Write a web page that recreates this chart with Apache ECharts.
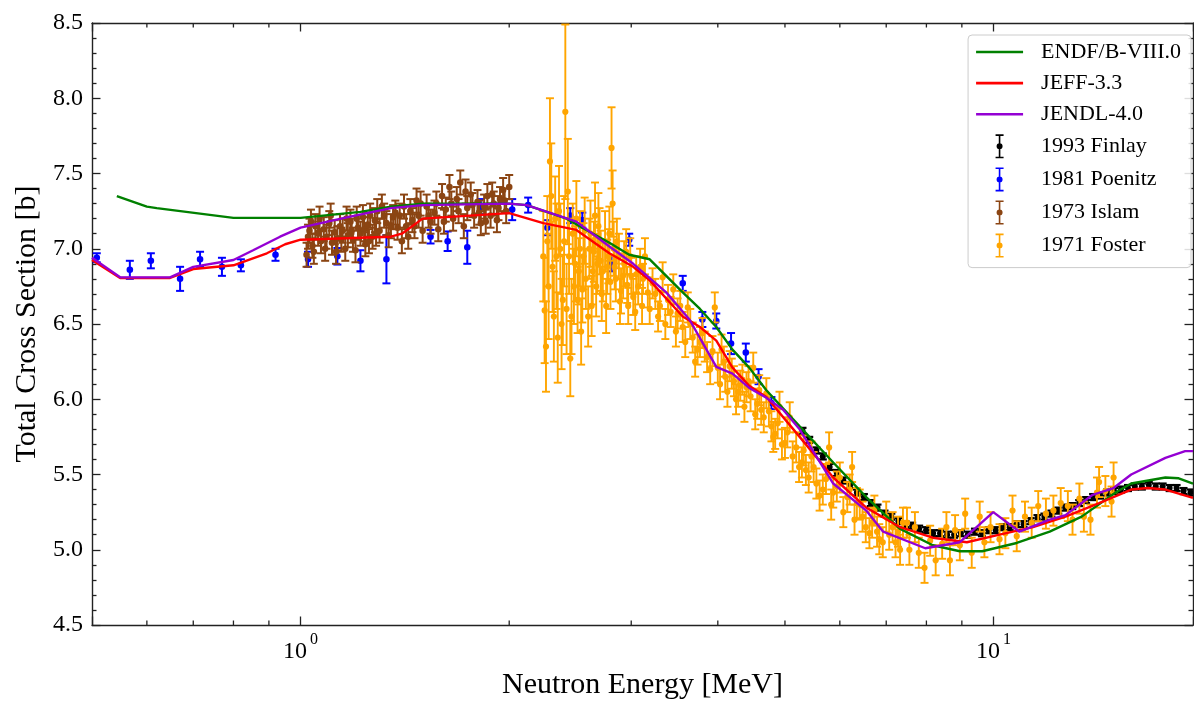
<!DOCTYPE html>
<html><head><meta charset="utf-8">
<script src="https://cdn.jsdelivr.net/npm/echarts@6/dist/echarts.min.js"></script>
<style>html,body{margin:0;padding:0;background:#fff}#chart{width:1194px;height:701px}</style>
</head><body><div id="chart"></div>
<script>
// ---- evaluated library curves: [energy MeV, cross section b]
const endfData = [[0.543,7.35],[0.60,7.28],[0.62,7.27],[0.80,7.205],[1.0,7.205],[1.22,7.245],[1.35,7.28],[1.5,7.30],[2.0,7.30],[2.12,7.29],[2.42,7.20],[2.55,7.14],[2.79,7.04],[2.98,6.96],[3.19,6.93],[3.56,6.71],[3.77,6.60],[3.98,6.48],[4.2,6.33],[4.44,6.21],[4.7,6.06],[5.25,5.82],[5.87,5.58],[6.55,5.35],[7.32,5.14],[8.17,5.03],[8.94,4.99],[9.63,4.99],[10.8,5.045],[12.05,5.12],[13.4,5.22],[15.0,5.38],[15.8,5.44],[17.7,5.48],[18.5,5.475],[19.4,5.44]];
const jeffData = [[0.5,6.925],[0.549,6.806],[0.648,6.806],[0.70,6.865],[0.80,6.89],[0.894,6.97],[0.95,7.03],[1.0,7.06],[1.35,7.08],[1.40,7.10],[1.50,7.20],[2.0,7.237],[2.24,7.17],[2.50,7.125],[2.79,6.97],[3.02,6.88],[3.19,6.79],[3.56,6.55],[3.77,6.48],[3.98,6.39],[4.2,6.21],[4.44,6.09],[4.70,6.015],[5.25,5.75],[5.87,5.48],[6.55,5.28],[7.33,5.15],[8.17,5.08],[9.15,5.05],[10.2,5.10],[11.4,5.15],[12.7,5.22],[14.2,5.31],[15.8,5.40],[16.7,5.41],[17.7,5.40],[19.4,5.345]];
const jendlData = [[0.5,6.94],[0.549,6.81],[0.648,6.81],[0.70,6.88],[0.80,6.925],[0.854,6.99],[0.934,7.08],[1.0,7.14],[1.17,7.21],[1.35,7.27],[1.5,7.29],[2.0,7.30],[2.12,7.29],[2.50,7.18],[2.79,7.015],[3.02,6.90],[3.37,6.71],[3.64,6.53],[3.98,6.215],[4.2,6.17],[4.44,6.075],[4.70,6.01],[4.97,5.93],[5.25,5.80],[5.87,5.44],[6.55,5.26],[6.93,5.12],[7.97,5.01],[8.94,5.05],[9.99,5.25],[10.9,5.12],[12.05,5.20],[12.7,5.23],[13.9,5.365],[14.9,5.41],[15.8,5.50],[17.7,5.61],[18.9,5.655],[19.4,5.655]];

// ---- measurements: [energy MeV, cross section b, uncertainty b]
const finlayData = [[5.30,5.79,0.02],[5.42,5.73,0.02],[5.55,5.66,0.02],[5.67,5.62,0.02],[5.80,5.55,0.02],[5.94,5.51,0.02],[6.07,5.46,0.02],[6.21,5.43,0.02],[6.35,5.38,0.02],[6.50,5.35,0.02],[6.65,5.31,0.02],[6.80,5.28,0.02],[6.96,5.24,0.02],[7.12,5.22,0.02],[7.29,5.19,0.02],[7.46,5.17,0.02],[7.63,5.16,0.02],[7.81,5.14,0.02],[7.99,5.13,0.02],[8.18,5.11,0.02],[8.37,5.11,0.02],[8.57,5.10,0.02],[8.77,5.10,0.02],[8.97,5.11,0.02],[9.18,5.10,0.02],[9.40,5.12,0.02],[9.62,5.11,0.02],[9.84,5.13,0.02],[10.07,5.13,0.02],[10.31,5.15,0.02],[10.55,5.15,0.02],[10.80,5.17,0.02],[11.05,5.17,0.02],[11.31,5.19,0.02],[11.57,5.21,0.02],[11.84,5.22,0.02],[12.12,5.24,0.02],[12.40,5.26,0.02],[12.69,5.28,0.02],[12.99,5.29,0.02],[13.29,5.31,0.02],[13.60,5.33,0.02],[13.92,5.35,0.02],[14.25,5.36,0.02],[14.58,5.38,0.02],[14.92,5.39,0.02],[15.27,5.40,0.02],[15.63,5.41,0.02],[15.99,5.42,0.02],[16.37,5.42,0.02],[16.75,5.43,0.02],[17.14,5.42,0.02],[17.54,5.42,0.02],[17.95,5.41,0.02],[18.37,5.41,0.02],[18.80,5.39,0.02],[19.24,5.38,0.02]];
const poenitzData = [[0.508,6.94,0.03],[0.567,6.86,0.06],[0.608,6.92,0.05],[0.670,6.80,0.08],[0.716,6.93,0.05],[0.770,6.88,0.06],[0.820,6.89,0.04],[0.920,6.96,0.04],[1.025,6.93,0.05],[1.130,6.95,0.055],[1.220,6.92,0.07],[1.330,6.93,0.16],[1.540,7.08,0.045],[1.630,7.05,0.065],[1.740,7.01,0.11],[1.820,7.28,0.05],[2.020,7.26,0.07],[2.130,7.29,0.05],[2.270,7.14,0.05],[2.450,7.22,0.05],[2.550,7.19,0.05],[2.810,6.90,0.05],[2.980,7.06,0.04],[3.560,6.77,0.05],[3.800,6.53,0.05],[3.980,6.52,0.05],[4.180,6.37,0.07],[4.390,6.31,0.06],[4.580,6.15,0.05],[4.780,5.975,0.04]];
const islamData = [[1.02,6.96,0.08],[1.025,7.08,0.08],[1.03,7.12,0.08],[1.035,7.18,0.08],[1.04,7.02,0.08],[1.045,6.98,0.08],[1.05,7.15,0.08],[1.06,7.10,0.08],[1.065,7.20,0.08],[1.07,7.05,0.08],[1.08,7.13,0.08],[1.085,7.00,0.08],[1.09,7.08,0.08],[1.10,7.17,0.08],[1.105,7.22,0.08],[1.11,7.04,0.08],[1.12,7.11,0.08],[1.125,6.98,0.08],[1.13,7.07,0.08],[1.14,7.15,0.08],[1.145,7.06,0.08],[1.15,7.12,0.08],[1.16,7.00,0.08],[1.165,7.20,0.08],[1.17,7.09,0.08],[1.18,7.18,0.08],[1.185,7.12,0.08],[1.19,7.06,0.08],[1.20,6.99,0.08],[1.205,7.20,0.08],[1.21,7.14,0.08],[1.22,7.10,0.08],[1.23,7.21,0.08],[1.235,7.13,0.08],[1.24,7.03,0.08],[1.25,7.16,0.08],[1.255,7.05,0.08],[1.26,7.22,0.08],[1.27,7.08,0.08],[1.28,7.19,0.08],[1.285,7.10,0.08],[1.29,7.25,0.08],[1.30,7.12,0.08],[1.31,7.28,0.08],[1.32,7.22,0.08],[1.33,7.17,0.08],[1.34,7.09,0.08],[1.35,7.15,0.08],[1.36,7.21,0.08],[1.37,7.24,0.08],[1.38,7.14,0.08],[1.39,7.22,0.08],[1.40,7.05,0.08],[1.41,7.28,0.08],[1.42,7.15,0.08],[1.43,7.08,0.08],[1.44,7.25,0.08],[1.45,7.19,0.08],[1.46,7.15,0.08],[1.47,7.32,0.08],[1.48,7.22,0.08],[1.49,7.30,0.08],[1.50,7.12,0.08],[1.52,7.28,0.08],[1.53,7.22,0.08],[1.54,7.18,0.08],[1.56,7.24,0.08],[1.57,7.30,0.08],[1.58,7.13,0.08],[1.60,7.35,0.08],[1.61,7.18,0.08],[1.62,7.26,0.08],[1.64,7.41,0.08],[1.65,7.30,0.08],[1.66,7.20,0.08],[1.68,7.33,0.08],[1.69,7.25,0.08],[1.70,7.44,0.08],[1.72,7.15,0.08],[1.73,7.38,0.08],[1.74,7.27,0.08],[1.76,7.36,0.08],[1.77,7.29,0.08],[1.78,7.22,0.08],[1.80,7.31,0.08],[1.81,7.24,0.08],[1.82,7.17,0.08],[1.84,7.28,0.08],[1.85,7.18,0.08],[1.86,7.35,0.08],[1.88,7.22,0.08],[1.89,7.36,0.08],[1.90,7.30,0.08],[1.92,7.19,0.08],[1.93,7.27,0.08],[1.94,7.33,0.08],[1.96,7.39,0.08],[1.97,7.32,0.08],[1.98,7.25,0.08],[2.00,7.41,0.08]];
const fosterData = [[2.24,6.95,0.30],[2.25,6.59,0.35],[2.26,6.35,0.30],[2.27,7.05,0.30],[2.28,6.75,0.35],[2.29,7.58,0.42],[2.30,7.35,0.35],[2.31,6.88,0.30],[2.32,6.55,0.30],[2.33,7.20,0.28],[2.34,6.95,0.35],[2.35,6.41,0.30],[2.36,7.25,0.30],[2.37,7.00,0.30],[2.38,6.50,0.30],[2.39,6.66,0.30],[2.40,7.05,0.30],[2.41,7.91,0.58],[2.42,6.60,0.30],[2.43,7.38,0.35],[2.44,6.95,0.25],[2.45,6.27,0.25],[2.46,6.55,0.25],[2.47,7.10,0.20],[2.48,6.75,0.25],[2.49,6.90,0.25],[2.50,7.20,0.25],[2.51,6.66,0.22],[2.52,6.85,0.22],[2.53,7.00,0.25],[2.54,6.45,0.22],[2.55,6.73,0.22],[2.56,6.95,0.22],[2.57,7.12,0.22],[2.58,6.80,0.20],[2.60,6.55,0.20],[2.61,7.00,0.20],[2.62,7.10,0.22],[2.63,6.62,0.20],[2.64,6.85,0.22],[2.65,6.98,0.20],[2.66,7.22,0.22],[2.67,6.75,0.20],[2.68,6.90,0.20],[2.69,7.15,0.22],[2.70,7.05,0.22],[2.71,6.92,0.20],[2.72,6.70,0.18],[2.73,6.85,0.20],[2.75,7.05,0.20],[2.76,6.62,0.18],[2.77,6.88,0.18],[2.78,6.95,0.18],[2.79,7.10,0.18],[2.80,6.78,0.18],[2.81,7.67,0.27],[2.82,7.30,0.22],[2.83,7.00,0.18],[2.84,6.88,0.15],[2.85,6.80,0.15],[2.86,7.05,0.15],[2.88,6.95,0.15],[2.89,6.65,0.15],[2.90,6.72,0.15],[2.92,6.82,0.15],[2.93,6.90,0.15],[2.95,6.98,0.15],[2.96,6.76,0.12],[2.97,6.62,0.12],[2.99,6.95,0.12],[3.00,6.82,0.12],[3.02,6.68,0.12],[3.04,6.58,0.12],[3.05,6.83,0.12],[3.07,6.75,0.12],[3.09,6.88,0.12],[3.11,6.62,0.12],[3.12,6.80,0.1],[3.14,6.95,0.12],[3.17,6.71,0.1],[3.19,6.60,0.1],[3.22,6.77,0.1],[3.25,6.70,0.1],[3.28,6.55,0.1],[3.30,6.62,0.1],[3.33,6.81,0.1],[3.36,6.50,0.1],[3.39,6.66,0.1],[3.42,6.58,0.1],[3.45,6.73,0.1],[3.48,6.45,0.1],[3.50,6.57,0.1],[3.53,6.62,0.1],[3.56,6.48,0.1],[3.59,6.38,0.1],[3.62,6.61,0.1],[3.65,6.50,0.1],[3.68,6.41,0.1],[3.71,6.25,0.1],[3.74,6.33,0.1],[3.77,6.38,0.1],[3.80,6.44,0.1],[3.83,6.35,0.1],[3.86,6.28,0.1],[3.90,6.20,0.1],[3.93,6.32,0.1],[3.96,6.61,0.1],[4.00,6.21,0.1],[4.03,6.10,0.1],[4.05,6.33,0.1],[4.08,6.25,0.1],[4.10,6.15,0.1],[4.13,6.05,0.1],[4.16,6.22,0.1],[4.19,6.17,0.1],[4.22,6.12,0.1],[4.25,6.00,0.1],[4.28,6.05,0.1],[4.31,6.09,0.1],[4.34,6.13,0.1],[4.37,5.95,0.1],[4.40,6.08,0.1],[4.43,6.12,0.1],[4.46,6.02,0.1],[4.50,6.21,0.1],[4.53,5.90,0.1],[4.56,5.97,0.1],[4.59,6.06,0.1],[4.62,5.93,0.1],[4.66,5.88,0.1],[4.70,6.04,0.1],[4.74,5.92,0.1],[4.78,5.82,0.1],[4.81,5.75,0.1],[4.84,5.77,0.1],[4.88,5.84,0.1],[4.91,5.95,0.1],[4.95,5.70,0.1],[5.00,5.71,0.1],[5.04,5.78,0.1],[5.08,5.88,0.1],[5.13,5.62,0.1],[5.19,5.68,0.1],[5.24,5.55,0.1],[5.29,5.58,0.1],[5.32,5.66,0.1],[5.36,5.53,0.1],[5.41,5.48,0.1],[5.46,5.62,0.1],[5.50,5.55,0.1],[5.55,5.44,0.1],[5.61,5.36,0.1],[5.67,5.40,0.1],[5.73,5.47,0.1],[5.79,5.68,0.1],[5.83,5.30,0.1],[5.87,5.38,0.1],[5.94,5.42,0.1],[6.00,5.48,0.1],[6.07,5.25,0.1],[6.15,5.35,0.1],[6.20,5.40,0.1],[6.25,5.55,0.1],[6.30,5.20,0.1],[6.35,5.31,0.1],[6.41,5.30,0.1],[6.47,5.22,0.1],[6.54,5.15,0.1],[6.62,5.11,0.1],[6.68,5.18,0.1],[6.73,5.26,0.1],[6.79,5.12,0.1],[6.84,5.07,0.1],[6.92,5.05,0.1],[7.00,5.22,0.1],[7.07,5.10,0.1],[7.15,5.15,0.1],[7.22,5.05,0.1],[7.28,5.12,0.1],[7.33,5.00,0.1],[7.40,5.18,0.1],[7.50,5.18,0.1],[7.56,5.00,0.1],[7.70,5.15,0.1],[7.80,4.98,0.1],[7.95,4.88,0.1],[8.10,5.06,0.1],[8.25,4.93,0.1],[8.43,5.04,0.1],[8.55,5.15,0.1],[8.65,4.93,0.1],[8.80,5.13,0.1],[8.94,5.03,0.1],[9.10,5.24,0.1],[9.30,4.98,0.1],[9.55,5.22,0.1],[9.70,5.05,0.1],[9.90,5.15,0.1],[10.2,5.07,0.1],[10.4,5.11,0.1],[10.65,5.26,0.1],[10.8,5.09,0.1],[11.1,5.22,0.1],[11.35,5.18,0.1],[11.6,5.29,0.1],[11.9,5.24,0.1],[12.2,5.26,0.1],[12.5,5.31,0.1],[12.8,5.29,0.1],[13.0,5.20,0.1],[13.3,5.34,0.1],[13.5,5.22,0.1],[13.8,5.20,0.1],[14.1,5.38,0.1],[14.2,5.45,0.1],[14.5,5.39,0.1],[14.8,5.32,0.1],[14.9,5.48,0.1]];

// ---- axes
const xMin = 0.5, xMax = 19.4;
const yMin = 4.5, yMax = 8.5, yStep = 0.5;
const xMinorTicks = [0.6,0.7,0.8,0.9,2,3,4,5,6,7,8,9];

const FONT = '"Liberation Serif","Times New Roman",serif';
const AX = '#222';
const ERR_ICON = 'path://M0,0L8,0L8,1.6L4.8,1.6L4.8,9.2L3.2,9.2L3.2,1.6L0,1.6Z M3.2,14.8L4.8,14.8L4.8,22.4L8,22.4L8,24L0,24L0,22.4L3.2,22.4Z M4,9A3,3 0 1,1 4,15A3,3 0 1,1 4,9Z';
const LINE_ICON = 'path://M0,0L47,0L47,2.6L0,2.6Z';

function errorBar(color, cw, lw, r){
  return function(params, api){
    const x = api.value(0), y = api.value(1), e = api.value(2);
    const p = api.coord([x, y]);
    const hi = api.coord([x, y + e]);
    const lo = api.coord([x, y - e]);
    const st = {stroke: color, lineWidth: lw};
    return {type:'group', children:[
      {type:'line', shape:{x1:p[0], y1:hi[1], x2:p[0], y2:lo[1]}, style:st},
      {type:'line', shape:{x1:p[0]-cw, y1:hi[1], x2:p[0]+cw, y2:hi[1]}, style:st},
      {type:'line', shape:{x1:p[0]-cw, y1:lo[1], x2:p[0]+cw, y2:lo[1]}, style:st},
      {type:'circle', shape:{cx:p[0], cy:p[1], r:r}, style:{fill:color}}
    ]};
  };
}

function minorTickRender(params, api){
  const x = api.coord([api.value(0), api.value(1)])[0];
  const cs = params.coordSys;
  const st = {stroke: AX, lineWidth: 1.3};
  const L = 4.5;
  return {type:'group', children:[
    {type:'line', shape:{x1:x, y1:cs.y+cs.height, x2:x, y2:cs.y+cs.height-L}, style:st},
    {type:'line', shape:{x1:x, y1:cs.y, x2:x, y2:cs.y+L}, style:st}
  ]};
}

const axisLineStyle = {show:true, lineStyle:{color:AX, width:1.4}};
const xBase = {
  type:'log', logBase:10, min:xMin, max:xMax,
  axisLine: axisLineStyle,
  axisTick:{show:true, inside:true, length:8.5, lineStyle:{color:AX, width:1.3}},
  splitLine:{show:false}, minorTick:{show:false}, minorSplitLine:{show:false}
};
const yBase = {
  type:'value', min:yMin, max:yMax, interval:yStep,
  axisLine: axisLineStyle,
  axisTick:{show:true, inside:true, length:8.5, lineStyle:{color:AX, width:1.3}},
  minorTick:{show:true, splitNumber:5, length:4.5, lineStyle:{color:AX, width:1.3}},
  splitLine:{show:false}, minorSplitLine:{show:false}
};

const chart = echarts.init(document.getElementById('chart'), null, {renderer:'canvas'});
const lineSeries = (name, data, color) => ({
  name, type:'line', data, symbol:'none', showSymbol:false, smooth:false, z:5,
  lineStyle:{color, width:2.4}, itemStyle:{color}, emphasis:{disabled:true}, animation:false
});
const errSeries = (name, data, color, cw, lw, r) => ({
  name, type:'custom', data, renderItem: errorBar(color, cw, lw, r), encode:{x:0, y:1},
  itemStyle:{color}, clip:true, z:3, animation:false, silent:true
});

chart.setOption({
  animation:false,
  backgroundColor:'#fff',
  grid:{left:92, right:1, top:23, bottom:76, containLabel:false, outerBoundsMode:'none'},
  xAxis:[
    Object.assign({}, xBase, {
      position:'bottom',
      name:'Neutron Energy [MeV]', nameLocation:'middle', nameGap:45,
      nameTextStyle:{fontFamily:FONT, fontSize:30, color:'#000'},
      axisLabel:{
        show:true, margin:7, showMinLabel:true, showMaxLabel:true,
        formatter:function(v){
          const e = Math.log10(v), r = Math.round(e);
          if (Math.abs(e - r) > 1e-6) return '';
          return '{b|10}{s|' + r + '}';
        },
        rich:{
          b:{fontFamily:FONT, fontSize:24, color:'#000'},
          s:{fontFamily:FONT, fontSize:16, color:'#000', padding:[0,0,24,3]}
        }
      }
    }),
    Object.assign({}, xBase, {position:'top', axisLabel:{show:false}})
  ],
  yAxis:[
    Object.assign({}, yBase, {
      position:'left',
      name:'Total Cross Section [b]', nameLocation:'middle', nameGap:48, nameRotate:90,
      nameTextStyle:{fontFamily:FONT, fontSize:30, color:'#000'},
      axisLabel:{show:true, margin:9, fontFamily:FONT, fontSize:24, color:'#000',
        formatter:function(v){ return v.toFixed(1); }}
    }),
    Object.assign({}, yBase, {position:'right', axisLabel:{show:false}})
  ],
  legend:{
    orient:'vertical', right:3, top:35,
    padding:[6,10,10,8],
    itemWidth:47, itemHeight:24, itemGap:9.1,
    backgroundColor:'rgba(255,255,255,0.85)', borderColor:'#cccccc', borderWidth:1, borderRadius:4,
    textStyle:{fontFamily:FONT, fontSize:22, color:'#000', padding:[0,0,0,13]},
    selectedMode:false,
    data:[
      {name:'ENDF/B-VIII.0', icon:LINE_ICON},{name:'JEFF-3.3', icon:LINE_ICON},{name:'JENDL-4.0', icon:LINE_ICON},
      {name:'1993 Finlay', icon:ERR_ICON},{name:'1981 Poenitz', icon:ERR_ICON},
      {name:'1973 Islam', icon:ERR_ICON},{name:'1971 Foster', icon:ERR_ICON}
    ]
  },
  series:[
    {name:'minorTicks', type:'custom', data: xMinorTicks.map(v => [v, yMin]), renderItem:minorTickRender, encode:{x:0,y:1}, silent:true, z:6, clip:false},
    errSeries('1993 Finlay', finlayData, '#000000', 4, 2.2, 3),
    errSeries('1981 Poenitz', poenitzData, '#0000ff', 4, 2, 3.3),
    errSeries('1973 Islam', islamData, '#8b4513', 4, 2, 3.3),
    errSeries('1971 Foster', fosterData, '#ffa500', 4, 1.9, 3.1),
    lineSeries('ENDF/B-VIII.0', endfData, '#008000'),
    lineSeries('JEFF-3.3', jeffData, '#ff0000'),
    lineSeries('JENDL-4.0', jendlData, '#9400d3')
  ]
});
</script></body></html>
